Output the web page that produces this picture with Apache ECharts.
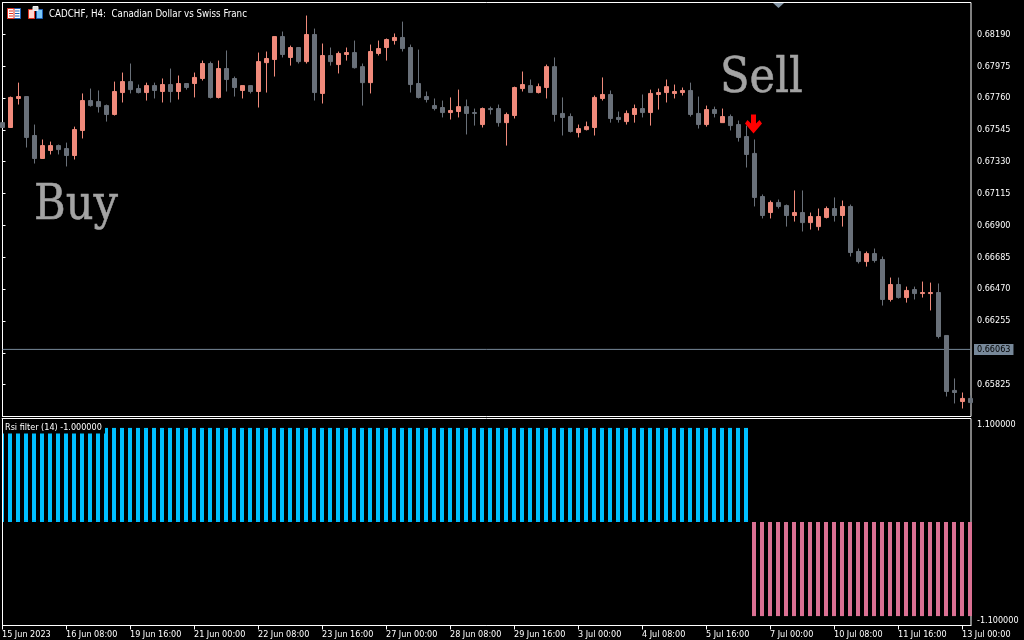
<!DOCTYPE html>
<html><head><meta charset="utf-8"><style>html,body{margin:0;background:#000}#c{width:1024px;height:640px}</style>
<script src="https://cdn.jsdelivr.net/npm/echarts@6/dist/echarts.min.js"></script></head>
<body><div id="c"></div><script>
const opens=[.67594,.67561,.67757,.67770,.67507,.67352,.67406,.67439,.67419,.67372,.67541,.67743,.67736,.67709,.67649,.67797,.67871,.67824,.67797,.67844,.67804,.67851,.67804,.67858,.67858,.67892,.67993,.67764,.67959,.67892,.67811,.67844,.67804,.67999,.68020,.68175,.68034,.68101,.68006,.68189,.67791,.68047,.67986,.68054,.68067,.67972,.67864,.68061,.68101,.68148,.68169,.68101,.67858,.67770,.67709,.67696,.67662,.67669,.67702,.67662,.67581,.67689,.67689,.67594,.67642,.67824,.67844,.67797,.67831,.67972,.67656,.67635,.67527,.67547,.67561,.67757,.67784,.67629,.67601,.67649,.67689,.67662,.67784,.67797,.67791,.67797,.67811,.67656,.67581,.67682,.67594,.67635,.67581,.67500,.67386,.67095,.66987,.67055,.67034,.66967,.66987,.66919,.66892,.66954,.67014,.66967,.67028,.66724,.66656,.66710,.66670,.66400,.66501,.66413,.66467,.66440,.66440,.66447,.66157,.65786,.65711,.65732];
const closes=[.67561,.67764,.67770,.67494,.67352,.67439,.67439,.67412,.67372,.67547,.67743,.67709,.67702,.67649,.67804,.67871,.67817,.67797,.67844,.67811,.67851,.67804,.67858,.67831,.67899,.67993,.67764,.67959,.67885,.67831,.67844,.67804,.68006,.68027,.68175,.68054,.68101,.68006,.68189,.67797,.68047,.68006,.68061,.68067,.67965,.67864,.68074,.68094,.68155,.68169,.68094,.67851,.67764,.67750,.67689,.67662,.67676,.67702,.67656,.67656,.67689,.67682,.67594,.67649,.67831,.67851,.67797,.67837,.67972,.67649,.67629,.67534,.67554,.67567,.67764,.67784,.67622,.67615,.67656,.67689,.67662,.67791,.67797,.67837,.67804,.67811,.67649,.67581,.67682,.67656,.67635,.67574,.67494,.67379,.67089,.66967,.67055,.67028,.66967,.66987,.66919,.66960,.66960,.67014,.66967,.67028,.66717,.66656,.66710,.66663,.66400,.66501,.66413,.66461,.66440,.66447,.66447,.66150,.65779,.65772,.65732,.65704];
const lows=[.67561,.67561,.67716,.67426,.67318,.67352,.67379,.67379,.67298,.67345,.67487,.67702,.67662,.67601,.67642,.67730,.67791,.67791,.67743,.67757,.67730,.67730,.67750,.67817,.67764,.67878,.67757,.67757,.67804,.67770,.67757,.67791,.67696,.67797,.67905,.68034,.67979,.67993,.67993,.67743,.67723,.67979,.67926,.68013,.67959,.67709,.67791,.68047,.68013,.68121,.68074,.67797,.67757,.67730,.67676,.67629,.67615,.67629,.67514,.67574,.67561,.67649,.67567,.67439,.67622,.67804,.67797,.67791,.67757,.67601,.67507,.67527,.67494,.67541,.67507,.67743,.67594,.67594,.67581,.67594,.67629,.67574,.67682,.67730,.67757,.67777,.67635,.67554,.67567,.67629,.67594,.67541,.67466,.67291,.67028,.66947,.66947,.67014,.66892,.66926,.66859,.66872,.66866,.66947,.66926,.66892,.66690,.66643,.66622,.66649,.66359,.66386,.66406,.66379,.66400,.66413,.66326,.66137,.65745,.65698,.65664,.65691];
const highs=[.67594,.67770,.67864,.67770,.67581,.67480,.67466,.67446,.67459,.67567,.67791,.67824,.67811,.67716,.67871,.67932,.67993,.67851,.67864,.67864,.67892,.67959,.67912,.67858,.67932,.68013,.68006,.68013,.68081,.67905,.67844,.67844,.68067,.68074,.68175,.68209,.68114,.68101,.68317,.68229,.68128,.68101,.68074,.68101,.68148,.67993,.68121,.68148,.68162,.68196,.68276,.68121,.68087,.67804,.67757,.67743,.67764,.67817,.67750,.67689,.67696,.67702,.67716,.67662,.67837,.67939,.67885,.67858,.67986,.68034,.67764,.67656,.67581,.67601,.67777,.67899,.67811,.67669,.67676,.67716,.67784,.67817,.67824,.67885,.67851,.67831,.67864,.67770,.67709,.67702,.67689,.67649,.67608,.67574,.67480,.67109,.67068,.67075,.67041,.67136,.67136,.66987,.67014,.67028,.67089,.67068,.67041,.66744,.66724,.66744,.66690,.66548,.66548,.66487,.66487,.66521,.66514,.66508,.66157,.65867,.65772,.65752];
const signal=[1,1,1,1,1,1,1,1,1,1,1,1,1,1,1,1,1,1,1,1,
1,1,1,1,1,1,1,1,1,1,1,1,1,1,1,1,1,1,1,1,
1,1,1,1,1,1,1,1,1,1,1,1,1,1,1,1,1,1,1,1,
1,1,1,1,1,1,1,1,1,1,1,1,1,1,1,1,1,1,1,1,
1,1,1,1,1,1,1,1,1,1,1,1,1,1,
-1,-1,-1,-1,-1,-1,-1,-1,-1,-1,-1,-1,-1,-1,-1,-1,-1,-1,-1,-1,
-1,-1,-1,-1,-1,-1,-1,-1];
const timeLabels=['15 Jun 2023','16 Jun 08:00','19 Jun 16:00','21 Jun 00:00','22 Jun 08:00','23 Jun 16:00','27 Jun 00:00','28 Jun 08:00','29 Jun 16:00','3 Jul 00:00','4 Jul 08:00','5 Jul 16:00','7 Jul 00:00','10 Jul 08:00','11 Jul 16:00','13 Jul 00:00'];
const bidPrice=0.66063;
const arrowBar=94, arrowPrice=0.67585;
const titleText='CADCHF, H4:  Canadian Dollar vs Swiss Franc';
const subLabel='Rsi filter (14) -1.000000';

const UP='#F08A7B',DOWN='#697079',F='"DejaVu Sans Condensed","DejaVu Sans",sans-serif',SERIF='"DejaVu Serif Condensed","DejaVu Serif",serif';
const lab={color:'#fff',fontFamily:F,fontSize:9};
const chart=echarts.init(document.getElementById('c'),null,{renderer:'canvas'});
const rect=(x,y,w,h,fill,stroke)=>({type:'rect',z:100,shape:{x,y,width:w,height:h},style:{fill:fill||'none',stroke:stroke||'none',lineWidth:1}});
const XMAX=121.0625;
chart.setOption({
 animation:false,backgroundColor:'#000',
 grid:[
  {left:2.5,top:2.5,width:968.5,height:414,outerBoundsMode:'none',show:true,borderColor:'#fff',borderWidth:1,backgroundColor:'#000'},
  {left:2,top:418.5,width:969,height:207,outerBoundsMode:'none',show:true,borderColor:'#fff',borderWidth:1,backgroundColor:'#000'}],
 xAxis:[
  {gridIndex:0,type:'value',min:0,max:XMAX,interval:8,show:false,splitLine:{show:false}},
  {gridIndex:1,type:'value',min:0,max:121.125,interval:8,splitLine:{show:false},
   axisLine:{onZero:false,lineStyle:{color:'#fff'}},axisTick:{length:4,lineStyle:{color:'#fff'}},
   axisLabel:Object.assign({},lab,{align:'left',margin:5,hideOverlap:false,showMaxLabel:false,formatter:v=>timeLabels[v/8]||''})}],
 yAxis:[
  {gridIndex:0,type:'value',position:'right',min:0.6561,max:0.68405,interval:0.00215,scale:true,splitLine:{show:false},
   axisLine:{show:true,lineStyle:{color:'#fff'}},axisTick:{show:true,length:3,lineStyle:{color:'#fff'}},
   axisLabel:Object.assign({},lab,{margin:6,showMinLabel:false,showMaxLabel:false,formatter:v=>v.toFixed(5)})},
  {gridIndex:1,type:'value',position:'right',min:-1.1,max:1.1,interval:2.2,splitLine:{show:false},
   axisLine:{show:true,lineStyle:{color:'#fff'}},axisTick:{show:true,length:3,lineStyle:{color:'#fff'}},
   axisLabel:Object.assign({},lab,{margin:6,padding:[2,0,0,0],verticalAlignMaxLabel:'top',verticalAlignMinLabel:'bottom',formatter:v=>v.toFixed(6)})}],
 series:[
  {type:'line',xAxisIndex:0,yAxisIndex:0,z:1,symbol:'none',silent:true,data:[[0,bidPrice],[XMAX,bidPrice]],
   lineStyle:{color:'#778899',width:1},
   endLabel:{show:true,distance:3,formatter:()=>bidPrice.toFixed(5),backgroundColor:'#778899',color:'#000',fontFamily:F,fontSize:9,padding:[1,3,0,3],lineHeight:10}},
  {type:'candlestick',xAxisIndex:0,yAxisIndex:0,z:2,barWidth:4,encode:{x:0,y:[1,2,3,4]},clip:true,
   data:opens.map((o,i)=>[i,o,closes[i],lows[i],highs[i]]),
   itemStyle:{color:UP,color0:DOWN,borderColor:UP,borderColor0:DOWN,borderWidth:1}},
  {type:'scatter',xAxisIndex:0,yAxisIndex:0,z:5,symbol:'path://M6,0 L11,0 L11,9 L14.5,5.5 L17,9 L8.5,19 L0,9 L2.5,5.5 L6,9 Z',symbolSize:[17,19],symbolOffset:[-1,0],itemStyle:{color:'#ff0000',opacity:1},data:[[arrowBar,arrowPrice]]},
  {type:'bar',xAxisIndex:1,yAxisIndex:1,barWidth:4,clip:true,data:signal.map((v,i)=>[i,v]),
   itemStyle:{color:p=>p.value[1]>0?'#00BFFF':'#DB7093'}}],
 graphic:[
  rect(0,419,2,207,'#000'),
  rect(2,418,1,208,'#fff'),
  {type:'text',z:100,x:49,y:9,style:{text:titleText,fill:'#fff',font:'9.7px '+F}},
  rect(3,422.5,102,11,'#000'),
  {type:'text',z:101,x:5,y:423,style:{text:subLabel,fill:'#fff',font:'9px '+F}},
  {type:'text',z:100,x:34,y:183,style:{text:'Buy',fill:'#A3A3A3',stroke:'#A3A3A3',lineWidth:0.5,font:'48px '+SERIF}},
  {type:'text',z:100,x:720,y:56,style:{text:'Sell',fill:'#A3A3A3',stroke:'#A3A3A3',lineWidth:0.5,font:'48px '+SERIF}},
  {type:'polygon',z:100,shape:{points:[[773,3],[784,3],[778.5,8]]},style:{fill:'#8495A5'}},
  rect(7.5,8.5,13,10,'#fff','#1f5fb5'),rect(7.5,8.5,6.5,10,'#fff','#e03020'),
  rect(9,10.5,4,1,'#e03020'),rect(9,13,4,1,'#e03020'),rect(9,15.5,4,1,'#e03020'),
  rect(15,10.5,4.5,1,'#1f5fb5'),rect(15,13,4.5,1,'#1f5fb5'),rect(15,15.5,4.5,1,'#1f5fb5'),
  rect(28.5,9.5,6,9,'#ffd8d0','#e03020'),rect(36.5,9.5,6,9,'#7cc8f8','#1f5fb5'),
  rect(33,6.5,5,4,'#ddd','#eee')
 ]
});
</script></body></html>
